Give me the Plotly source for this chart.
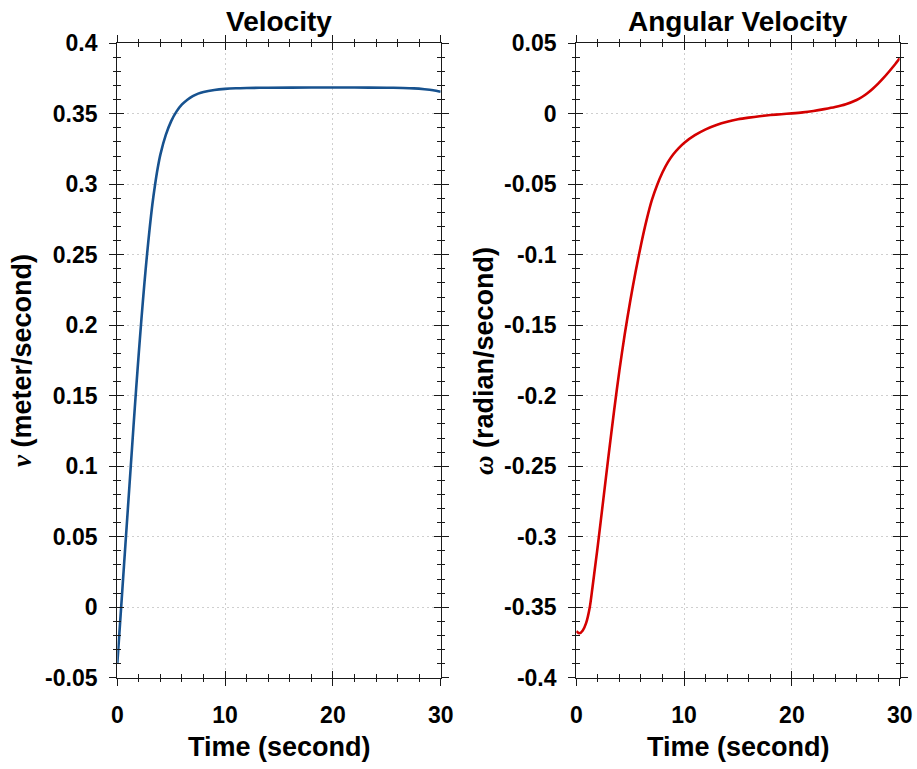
import plotly.graph_objects as go

# ---------------- data ----------------
t_vel = [0, 0.25, 0.5, 0.75, 1.0, 1.25, 1.5, 1.75, 2.0, 2.25, 2.5, 2.75, 3.0, 3.25, 3.5, 3.75,
         4.0, 4.5, 5.0, 5.5, 6.0, 6.5, 7.0, 7.5, 8.0, 9.0, 10.0, 11, 12, 14, 18, 22, 25,
         26.5, 27.5, 28.5, 29.3, 30]
velocity = [-0.040, -0.012, 0.016, 0.044, 0.072, 0.100, 0.128, 0.155, 0.181, 0.2055, 0.2285,
            0.2495, 0.2685, 0.2855, 0.2995, 0.3115, 0.3212, 0.3350, 0.3448, 0.3517, 0.3566,
            0.3600, 0.3625, 0.3643, 0.3655, 0.3669, 0.3677, 0.3681, 0.3683, 0.3685, 0.3686,
            0.3686, 0.3685, 0.3683, 0.3680, 0.3674, 0.3667, 0.3657]

t_ang = [0, 0.3, 0.6, 0.9, 1.25, 1.5, 1.8, 2.0, 2.5, 3.0, 3.5, 4.0, 4.5, 5.0, 5.5, 6.0, 6.5,
         7.0, 7.5, 8.0, 8.5, 9.0, 9.5, 10.0, 11, 12, 13, 14, 15, 16, 17, 18, 19, 20, 21, 22,
         23, 24, 25, 26, 26.5, 27, 27.5, 28, 28.5, 29, 29.5, 30]
ang_velocity = [-0.3670, -0.3685, -0.3665, -0.3615, -0.3500, -0.3360, -0.3180, -0.3060,
                -0.2740, -0.2420, -0.2110, -0.1820, -0.1560, -0.1330, -0.1120, -0.0930,
                -0.0760, -0.0615, -0.0505, -0.0415, -0.0343, -0.0287, -0.0243, -0.0207,
                -0.0152, -0.0110, -0.0079, -0.0056, -0.0039, -0.0027, -0.0017, -0.0009,
                -0.0003, 0.0003, 0.0010, 0.0020, 0.0033, 0.0048, 0.0068, 0.0098, 0.0119,
                0.0146, 0.0178, 0.0214, 0.0254, 0.0298, 0.0344, 0.0394]

x_ticks = [0, 10, 20, 30]
x_ticktext = ["0", "10", "20", "30"]
vel_ticks = [-0.05, 0, 0.05, 0.1, 0.15, 0.2, 0.25, 0.3, 0.35, 0.4]
vel_ticktext = ["-0.05", "0", "0.05", "0.1", "0.15", "0.2", "0.25", "0.3", "0.35", "0.4"]
ang_ticks = [-0.4, -0.35, -0.3, -0.25, -0.2, -0.15, -0.1, -0.05, 0, 0.05]
ang_ticktext = ["-0.4", "-0.35", "-0.3", "-0.25", "-0.2", "-0.15", "-0.1", "-0.05", "0", "0.05"]

titles = ["Velocity", "Angular Velocity"]
x_title = "Time (second)"
y_titles = ["<span style=\"font-family:Liberation Serif;font-style:italic\">v</span> (meter/second)",
            "<span style=\"font-family:Liberation Serif;font-style:italic\">ω</span> (radian/second)"]

# ---------------- style ----------------
W, H = 917, 769
FONT = "Liberation Sans, Arial, sans-serif"
AX = "#1a1a1a"
GRID = "#cfcfcf"
BLUE = "#17528f"
RED = "#d40000"

xdomL = [117.3 / W, 440.7 / W]
xdomR = [576.3 / W, 899.7 / W]
ydom = [1 - 677.7 / H, 1 - 43.3 / H]

fig = go.Figure()
fig.add_trace(go.Scatter(x=t_vel, y=velocity, mode="lines",
                         line=dict(color=BLUE, width=2.6, shape="spline", smoothing=0.8),
                         xaxis="x", yaxis="y", showlegend=False))
fig.add_trace(go.Scatter(x=t_ang, y=ang_velocity, mode="lines",
                         line=dict(color=RED, width=2.6, shape="spline", smoothing=0.8),
                         xaxis="x2", yaxis="y2", showlegend=False))
# placeholders to register overlay axes (inward tick sets)
fig.add_trace(go.Scatter(x=[None], y=[None], xaxis="x3", yaxis="y3", showlegend=False, hoverinfo="skip"))
fig.add_trace(go.Scatter(x=[None], y=[None], xaxis="x4", yaxis="y4", showlegend=False, hoverinfo="skip"))

tickfont = dict(family=FONT, size=23, color="black", weight="bold")


def main_axis(domain, rng, tickvals, ticktext, minor_dtick, anchor, standoff):
    return dict(domain=domain, range=rng, anchor=anchor, tickmode="array", tickvals=tickvals,
                ticktext=ticktext, ticks="outside", ticklen=7, tickwidth=1.3, tickcolor=AX,
                showline=True, linecolor=AX, linewidth=1.3, mirror="allticks",
                showgrid=True, gridcolor=GRID, griddash="2px,3px", gridwidth=1, zeroline=False,
                tickfont=tickfont, ticklabelstandoff=standoff, automargin=False,
                minor=dict(dtick=minor_dtick, ticks="outside", ticklen=3.5, tickwidth=1.1,
                           tickcolor=AX, showgrid=False))


def inner_axis(domain, rng, tickvals, minor_dtick, anchor, overlay):
    return dict(domain=domain, range=rng, anchor=anchor, overlaying=overlay, tickmode="array",
                tickvals=tickvals, ticks="inside", ticklen=7, tickwidth=1.3, tickcolor=AX,
                showline=False, mirror="allticks", showgrid=False, zeroline=False,
                showticklabels=False, automargin=False,
                minor=dict(dtick=minor_dtick, ticks="inside", ticklen=3.5, tickwidth=1.1,
                           tickcolor=AX, showgrid=False))


fig.update_layout(
    width=W, height=H, autosize=False,
    margin=dict(l=0, r=0, t=0, b=0),
    paper_bgcolor="white", plot_bgcolor="white",
    xaxis=main_axis(xdomL, [0, 30], x_ticks, x_ticktext, 2, "y", 10),
    yaxis=main_axis(ydom, [-0.05, 0.4], vel_ticks, vel_ticktext, 0.01, "x", 7),
    xaxis2=main_axis(xdomR, [0, 30], x_ticks, x_ticktext, 2, "y2", 10),
    yaxis2=main_axis(ydom, [-0.4, 0.05], ang_ticks, ang_ticktext, 0.01, "x2", 7),
    xaxis3=inner_axis(xdomL, [0, 30], x_ticks, 2, "y3", "x"),
    yaxis3=inner_axis(ydom, [-0.05, 0.4], vel_ticks, 0.01, "x3", "y"),
    xaxis4=inner_axis(xdomR, [0, 30], x_ticks, 2, "y4", "x2"),
    yaxis4=inner_axis(ydom, [-0.4, 0.05], ang_ticks, 0.01, "x4", "y2"),
)

ann_font_title = dict(family=FONT, size=28, color="black", weight="bold")
ann_font_axis = dict(family=FONT, size=27, color="black", weight="bold")
centers = [279 / W, 738 / W]
ytitle_x = [22 / W, 484 / W]
for i in range(2):
    fig.add_annotation(text=titles[i], x=centers[i], y=1 - 21.9 / H, xref="paper", yref="paper",
                       xanchor="center", yanchor="middle", showarrow=False, font=ann_font_title)
    fig.add_annotation(text=x_title, x=centers[i], y=1 - 747 / H, xref="paper", yref="paper",
                       xanchor="center", yanchor="middle", showarrow=False, font=ann_font_axis)
    fig.add_annotation(text=y_titles[i], x=ytitle_x[i], y=1 - 361 / H, xref="paper", yref="paper",
                       xanchor="center", yanchor="middle", textangle=-90, showarrow=False,
                       font=ann_font_axis)

fig.write_html("out.html")
